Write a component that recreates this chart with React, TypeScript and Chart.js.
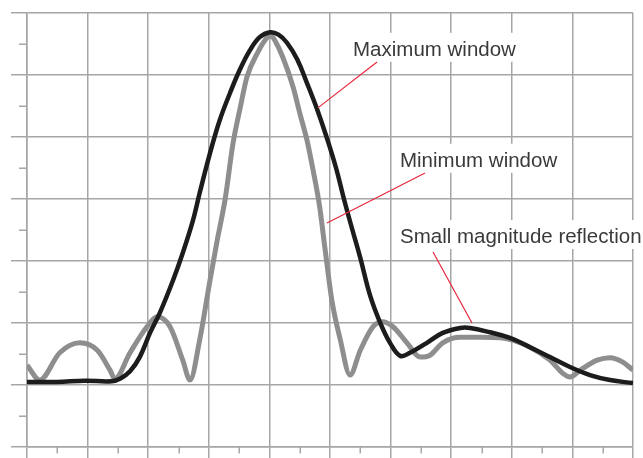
import React, { useEffect, useRef } from "react";
import { Chart, registerables } from "chart.js";

Chart.register(...registerables);

// Maximum window (black) trace
const maxWindowX = [0, 0.5, 0.95, 1.4, 1.55, 1.7, 1.86, 2.03, 2.19, 2.41, 2.57, 2.74, 2.85, 3.02, 3.18, 3.35, 3.51, 3.68, 3.84, 4.01, 4.15, 4.29, 4.46, 4.62, 4.79, 4.95, 5.1, 5.23, 5.37, 5.5, 5.66, 5.83, 5.99, 6.16, 6.32, 6.6, 6.86, 7.15, 7.31, 7.64, 7.97, 8.3, 8.63, 8.96, 9.29, 9.62, 10];
const maxWindowY = [0.05, 0.05, 0.07, 0.06, 0.11, 0.22, 0.45, 0.84, 1.16, 1.69, 2.13, 2.66, 3.1, 3.74, 4.27, 4.71, 5.08, 5.4, 5.61, 5.69, 5.65, 5.52, 5.25, 4.87, 4.44, 3.98, 3.5, 3.0, 2.5, 2.05, 1.45, 1.0, 0.68, 0.47, 0.52, 0.68, 0.84, 0.92, 0.92, 0.85, 0.76, 0.61, 0.45, 0.29, 0.16, 0.08, 0.03];

// Minimum window (gray) trace
const minWindowX = [0, 0.21, 0.54, 0.87, 1.16, 1.37, 1.45, 1.7, 1.98, 2.15, 2.36, 2.57, 2.69, 2.85, 3.02, 3.14, 3.27, 3.4, 3.52, 3.63, 3.8, 3.96, 4.03, 4.1, 4.22, 4.39, 4.5, 4.62, 4.72, 4.83, 4.92, 5.03, 5.17, 5.33, 5.5, 5.71, 5.86, 6.04, 6.27, 6.49, 6.65, 6.86, 7.15, 7.48, 7.81, 8.3, 8.63, 8.84, 8.96, 9.13, 9.41, 9.62, 9.83, 10];
const minWindowY = [0.32, 0.08, 0.52, 0.68, 0.56, 0.24, 0.1, 0.52, 0.94, 1.1, 0.94, 0.4, 0.08, 0.73, 1.69, 2.34, 3.0, 3.9, 4.48, 4.97, 5.35, 5.6, 5.63, 5.54, 5.29, 4.81, 4.39, 3.95, 3.47, 2.87, 2.18, 1.37, 0.73, 0.16, 0.56, 0.94, 1.02, 0.94, 0.68, 0.45, 0.48, 0.68, 0.77, 0.77, 0.76, 0.61, 0.4, 0.19, 0.13, 0.24, 0.4, 0.44, 0.37, 0.24];

// Axis ranges (no tick labels in the original)
const xMin = 0;
const xMax = 10;
const yMin = -1;
const yMax = 6;

// Annotations (data coordinates)
const annotationLabels = ["Maximum window", "Minimum window", "Small magnitude reflection"];
const annotationTextX = [5.38, 6.155, 6.155];
const annotationTextY = [5.31, 3.52, 2.29];
const leaderStartX = [5.776, 6.568, 6.7];
const leaderStartY = [5.21, 3.419, 2.145];
const leaderEndX = [4.8, 4.95, 7.343];
const leaderEndY = [4.47, 2.613, 1.0];

const GRID = "#a6a6a6";

const minorTicksPlugin = {
  id: "minorTicks",
  afterDraw(chart: any) {
    const { ctx, chartArea, scales } = chart;
    const xs = scales.x;
    const ys = scales.y;
    ctx.save();
    ctx.strokeStyle = GRID;
    ctx.lineWidth = 1.5;
    ctx.beginPath();
    for (let v = xMin + 0.5; v < xMax; v += 1) {
      const px = Math.round(xs.getPixelForValue(v)) + 0.25;
      ctx.moveTo(px, chartArea.bottom);
      ctx.lineTo(px, chartArea.bottom + 6.5);
    }
    for (let v = yMin + 0.5; v < yMax; v += 1) {
      const py = Math.round(ys.getPixelForValue(v)) + 0.25;
      ctx.moveTo(chartArea.left - 8, py);
      ctx.lineTo(chartArea.left, py);
    }
    ctx.stroke();
    ctx.restore();
  },
};

const annotationPlugin = {
  id: "calloutLabels",
  afterDatasetsDraw(chart: any) {
    const { ctx, scales } = chart;
    const xs = scales.x;
    const ys = scales.y;
    ctx.save();
    ctx.font = "20.5px 'Liberation Sans', Arial, sans-serif";
    ctx.textBaseline = "alphabetic";
    ctx.textAlign = "left";
    annotationLabels.forEach((label, i) => {
      const tx = xs.getPixelForValue(annotationTextX[i]);
      const ty = ys.getPixelForValue(annotationTextY[i]);
      const w = ctx.measureText(label).width;
      ctx.fillStyle = "#ffffff";
      ctx.fillRect(tx - 4, ty - 23, w + 8, 29);
    });
    ctx.strokeStyle = "#e8283f";
    ctx.lineWidth = 1.2;
    annotationLabels.forEach((_, i) => {
      ctx.beginPath();
      ctx.moveTo(xs.getPixelForValue(leaderStartX[i]), ys.getPixelForValue(leaderStartY[i]));
      ctx.lineTo(xs.getPixelForValue(leaderEndX[i]), ys.getPixelForValue(leaderEndY[i]));
      ctx.stroke();
    });
    ctx.fillStyle = "#3a3a3a";
    annotationLabels.forEach((label, i) => {
      ctx.fillText(label, xs.getPixelForValue(annotationTextX[i]), ys.getPixelForValue(annotationTextY[i]));
    });
    ctx.restore();
  },
};

export default function App() {
  const canvasRef = useRef<HTMLCanvasElement | null>(null);

  useEffect(() => {
    if (!canvasRef.current) return;
    const chart = new Chart(canvasRef.current, {
      type: "line",
      data: {
        datasets: [
          {
            label: "Maximum window",
            data: maxWindowX.map((x, i) => ({ x, y: maxWindowY[i] })),
            borderColor: "#1c1c1c",
            borderWidth: 4.5,
            pointRadius: 0,
            tension: 0.4,
            fill: false,
          },
          {
            label: "Minimum window",
            data: minWindowX.map((x, i) => ({ x, y: minWindowY[i] })),
            borderColor: "#8e8e8e",
            borderWidth: 5,
            pointRadius: 0,
            cubicInterpolationMode: "monotone",
            fill: false,
          },
        ],
      },
      options: {
        animation: false,
        responsive: false,
        devicePixelRatio: 1,
        layout: { padding: { left: 11, top: 13, right: 10, bottom: 0 } },
        plugins: {
          legend: { display: false },
          tooltip: { enabled: false },
        },
        scales: {
          x: {
            type: "linear",
            min: xMin,
            max: xMax,
            ticks: { display: false, stepSize: 1 },
            grid: { color: GRID, lineWidth: 1.5, tickLength: 11, tickColor: GRID, drawTicks: true },
            border: { display: true, color: GRID, width: 1.5 },
          },
          y: {
            type: "linear",
            min: yMin,
            max: yMax,
            ticks: { display: false, stepSize: 1 },
            grid: { color: GRID, lineWidth: 1.5, tickLength: 16, tickColor: GRID, drawTicks: true },
            border: { display: true, color: GRID, width: 1.5 },
          },
        },
      },
      plugins: [minorTicksPlugin, annotationPlugin],
    });
    return () => chart.destroy();
  }, []);

  return (
    <div style={{ position: "absolute", left: 0, top: 0, width: 643, height: 458, background: "#fff" }}>
      <canvas ref={canvasRef} width={643} height={458} style={{ display: "block" }} />
    </div>
  );
}
